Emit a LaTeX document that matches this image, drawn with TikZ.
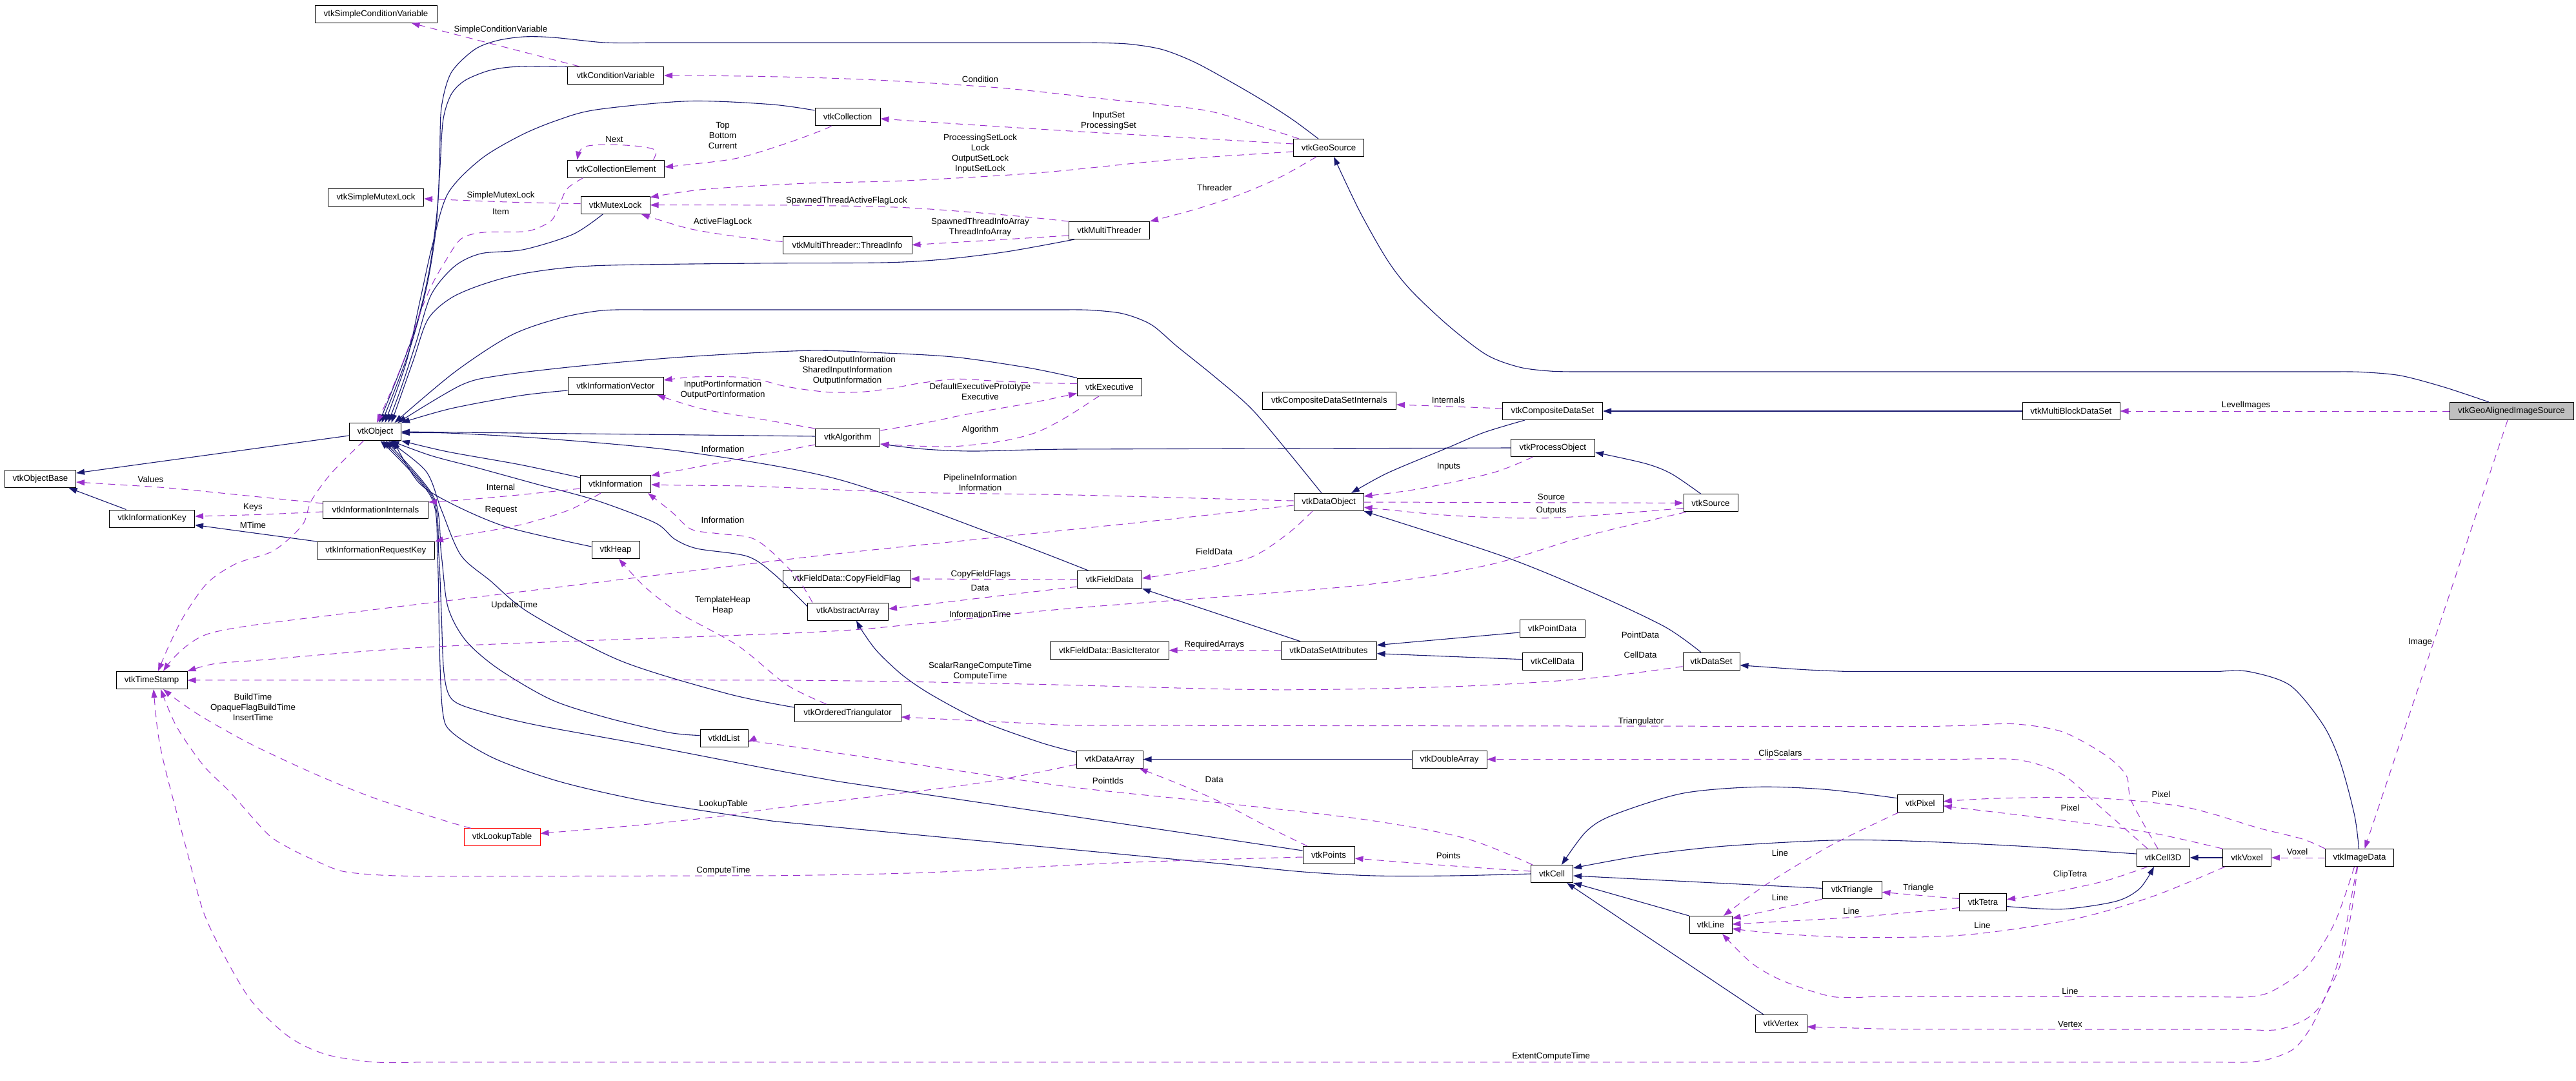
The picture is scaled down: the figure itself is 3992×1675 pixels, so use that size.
\documentclass[tikz,border=0pt]{standalone}
\usepackage{fontspec}
\newfontfamily\lbl{Liberation Sans}
\usetikzlibrary{arrows.meta}
\definecolor{navyc}{HTML}{191970}
\definecolor{orchidc}{HTML}{9A32CD}
\definecolor{greyc}{HTML}{BFBFBF}
\newcommand\lblf{\lbl\fontsize{13.3pt}{16pt}\selectfont}
\begin{document}
\begin{tikzpicture}[x=1pt,y=-1pt,
 cls/.style={draw=black, line width=1pt, fill=white, minimum height=27pt, inner sep=0pt, font=\lblf},
 lab/.style={inner sep=0pt, align=center, font=\lblf},
 inh/.style={draw=navyc, line width=1.1pt, -{Triangle[length=13pt,width=9pt]}},
 use/.style={draw=orchidc, line width=1pt, dash pattern=on 11pt off 8pt, -{Triangle[length=13pt,width=9pt]}}]
\useasboundingbox (0,0) rectangle (3992,1675);
\fill[white] (0,0) rectangle (3992,1675);
% ---------------- nodes
\node[cls, minimum width=110pt] (objbase) at (62.5,742) {vtkObjectBase};
\node[cls, minimum width=132pt] (infokey) at (235.5,803.5) {vtkInformationKey};
\node[cls, minimum width=110pt] (tstamp) at (235,1054) {vtkTimeStamp};
\node[cls, minimum width=189pt] (scv) at (582.5,21.7) {vtkSimpleConditionVariable};
\node[cls, minimum width=148pt] (sml) at (582.5,306) {vtkSimpleMutexLock};
\node[cls, minimum width=80pt] (obj) at (581.5,669) {vtkObject};
\node[cls, minimum width=163pt] (infoint) at (582,790) {vtkInformationInternals};
\node[cls, minimum width=182pt] (inforeq) at (582.4,853) {vtkInformationRequestKey};
\node[cls, minimum width=118pt, draw=red] (lut) at (778,1297.4) {vtkLookupTable};
\node[cls, minimum width=149pt] (condvar) at (954,117) {vtkConditionVariable};
\node[cls, minimum width=150pt] (collel) at (954.5,261.7) {vtkCollectionElement};
\node[cls, minimum width=107pt] (mutex) at (953.5,317.7) {vtkMutexLock};
\node[cls, minimum width=148pt] (infovec) at (954,598) {vtkInformationVector};
\node[cls, minimum width=109pt] (info) at (954,750) {vtkInformation};
\node[cls, minimum width=74pt] (heap) at (954,852) {vtkHeap};
\node[cls, minimum width=74pt] (idlist) at (1122,1143.5) {vtkIdList};
\node[cls, minimum width=101pt] (coll) at (1313.5,181) {vtkCollection};
\node[cls, minimum width=200pt] (thrinfo) at (1313,379.5) {vtkMultiThreader::ThreadInfo};
\node[cls, minimum width=100pt] (algo) at (1313.8,678) {vtkAlgorithm};
\node[cls, minimum width=198pt] (cff) at (1312,897) {vtkFieldData::CopyFieldFlag};
\node[cls, minimum width=125pt] (absarr) at (1314,947.5) {vtkAbstractArray};
\node[cls, minimum width=165pt] (otri) at (1313.6,1105) {vtkOrderedTriangulator};
\node[cls, minimum width=125pt] (mthr) at (1719,357) {vtkMultiThreader};
\node[cls, minimum width=100pt] (exec) at (1719.5,599.5) {vtkExecutive};
\node[cls, minimum width=100pt] (fdata) at (1719.5,898) {vtkFieldData};
\node[cls, minimum width=184pt] (basicit) at (1719,1007.7) {vtkFieldData::BasicIterator};
\node[cls, minimum width=103pt] (darr) at (1719.5,1176.6) {vtkDataArray};
\node[cls, minimum width=109pt] (geosrc) at (2059,229) {vtkGeoSource};
\node[cls, minimum width=207pt] (cdsint) at (2060,621) {vtkCompositeDataSetInternals};
\node[cls, minimum width=108pt] (dobj) at (2059,778) {vtkDataObject};
\node[cls, minimum width=148pt] (dsattr) at (2059,1007.7) {vtkDataSetAttributes};
\node[cls, minimum width=80pt] (points) at (2059,1325) {vtkPoints};
\node[cls, minimum width=116pt] (dblarr) at (2246,1176.6) {vtkDoubleArray};
\node[cls, minimum width=155pt] (cds) at (2406,637) {vtkCompositeDataSet};
\node[cls, minimum width=130pt] (procobj) at (2406.4,694) {vtkProcessObject};
\node[cls, minimum width=101pt] (pdata) at (2405.6,974) {vtkPointData};
\node[cls, minimum width=93pt] (cdata) at (2406,1024.7) {vtkCellData};
\node[cls, minimum width=65pt] (cell) at (2405,1354) {vtkCell};
\node[cls, minimum width=84pt] (source) at (2651,779.4) {vtkSource};
\node[cls, minimum width=88pt] (dset) at (2652,1024.7) {vtkDataSet};
\node[cls, minimum width=66pt] (line) at (2651,1433) {vtkLine};
\node[cls, minimum width=80pt] (vertex) at (2760,1586) {vtkVertex};
\node[cls, minimum width=92pt] (tri) at (2870,1379.4) {vtkTriangle};
\node[cls, minimum width=71pt] (pixel) at (2975.7,1244.7) {vtkPixel};
\node[cls, minimum width=73pt] (tetra) at (3073,1397.5) {vtkTetra};
\node[cls, minimum width=151pt] (mblock) at (3209.5,637) {vtkMultiBlockDataSet};
\node[cls, minimum width=82pt] (cell3d) at (3352,1329) {vtkCell3D};
\node[cls, minimum width=75pt] (voxel) at (3482,1329) {vtkVoxel};
\node[cls, minimum width=106pt] (imgdata) at (3656.5,1329) {vtkImageData};
\node[cls, minimum width=192pt, fill=greyc] (geoimg) at (3892,637) {vtkGeoAlignedImageSource};
% ---------------- inheritance
\draw[inh] ([yshift=-6pt]obj.west) -- ([yshift=9pt]objbase.east);
\draw[inh] ([xshift=-40pt]infokey.north) -- ([xshift=44pt]objbase.south);
\draw[inh] (inforeq.north west) -- ([yshift=-10pt]infokey.east);
\draw[inh] plot[smooth] coordinates {([xshift=-35pt]geoimg.north) (3788,600) (3720,582) (3660,576.5) (3620,576)} -- plot[smooth] coordinates {(2440,576) (2402,575) (2355,569) (2304,550) (2245,505) (2186.7,450) (2150,403) (2106.7,326.7) ([xshift=8pt]geosrc.south)};
\draw[inh] plot[smooth] coordinates {([xshift=-43pt]cds.south) (2300,670) (2243,694) (2150,733) ([xshift=35pt]dobj.north)};
\draw[inh] (mblock.west) -- (cds.east);
\draw[inh] (procobj.west) -- plot[smooth] coordinates {(1650,696) (1594,697) (1514,699) (1468,698) (1422,695) ([yshift=-10pt]algo.east)};
\draw[inh] plot[smooth] coordinates {([xshift=-15pt]source.north) (2590,734) (2549,718) ([yshift=-7pt]procobj.east)};
\draw[inh] plot[smooth] coordinates {([xshift=-16pt]dset.north) (2579.6,971) (2467,918) (2329.6,862) (dobj.south east)};
\draw[inh] plot[smooth] coordinates {([xshift=-1pt]imgdata.north) (3648.6,1262.6) (3626.6,1181) (3600,1123) (3549,1062) (3484.5,1040.5) (3440,1040.4)} -- plot[smooth] coordinates {(2860,1040.4) (2794,1037.5) ([yshift=-6pt]dset.east)};
\draw[inh] ([xshift=-44pt]dsattr.north) -- (fdata.south east);
\draw[inh] ([yshift=-6pt]pdata.west) -- ([yshift=8pt]dsattr.east);
\draw[inh] ([yshift=3pt]cdata.west) -- ([yshift=-5pt]dsattr.east);
\draw[inh] plot[smooth] coordinates {([yshift=11pt]darr.west) (1613,1150.7) (1521,1117.4) (1445,1077.5) (1399,1046.5) (1360,1010) (1337.7,980) ([xshift=13pt]absarr.south)};
\draw[inh] (dblarr.west) -- (darr.east);
\draw[inh] plot[smooth] coordinates {([yshift=8pt]pixel.west) (2830.7,1223.4) (2723,1219.4) (2606.8,1229.4) (2499,1263.2) (2457.5,1289) ([xshift=15pt]cell.north)};
\draw[inh] plot[smooth] coordinates {([yshift=6pt]cell3d.west) (3129,1311) (2955,1303) (2839,1302) (2673,1311) (2548.8,1325) ([yshift=9pt]cell.east)};
\draw[inh] (voxel.west) -- (cell3d.east);
\draw[inh] ([yshift=3pt]tri.west) -- ([yshift=-3pt]cell.east);
\draw[inh] plot[smooth] coordinates {([yshift=-7pt]tetra.east) (3195.5,1408.7) (3278.5,1396.7) (3315.8,1376.8) ([xshift=-14pt]cell3d.south)};
\draw[inh] (line.north west) -- (cell.south east);
\draw[inh] ([xshift=-27pt]vertex.north) -- ([xshift=23pt]cell.south);
% into vtkObject
\draw[inh] plot[smooth] coordinates {([xshift=-16pt]geosrc.north) (2005,186.7) (1964,160) (1913,130) (1852,96.7) (1801,76.7) (1750,68.3) (1700,66.3) (1660,66.3)} -- plot[smooth] coordinates {(1000,66.3) (936.6,66) (857,58) (811.6,57) (770,63) (735,77) (699,113) (684,167) (681.5,240) (678,320) (665,420) (640,520) ([xshift=6pt]obj.north)};
\draw[inh] plot[smooth] coordinates {(condvar.north west) (837,102.7) (790,104) (755.5,110) (720,125) (699,146.7) (686.6,186.7) (681.5,266.7) (675,360) (660,450) (632,550) ([xshift=10pt]obj.north)};
\draw[inh] plot[smooth] coordinates {([yshift=10pt]coll.west) (1194,161.7) (1066.7,156.7) (924,170) (862.6,186.7) (806.5,210) (745,246.7) (694,300) (670,380) (650,470) (630,560) ([xshift=15pt]obj.north)};
\draw[inh] plot[smooth] coordinates {([xshift=-19pt]mutex.south) (888,363) (811.6,386.7) (745,393) (704,413) (668,457) (645,530) (622,600) ([xshift=20pt]obj.north)};
\draw[inh] plot[smooth] coordinates {([xshift=-54pt]mthr.south) (1560,390) (1460,402) (1367,407) (1173,408) (923.5,411.7) (816,423) (750,440) (699,461.7) (663,495) (640,560) ([xshift=25pt]obj.north)};
\draw[inh] plot[smooth] coordinates {([xshift=-11pt]dobj.north) (1996,700) (1939,633) (1881.5,583) (1824,536.7) (1784,503) (1740,486) (1690,480.5) (1650,480)} -- plot[smooth] coordinates {(1000,480) (933.7,481) (867,493) (791,520) (704,577) ([xshift=30pt]obj.north)};
\draw[inh] plot[smooth] coordinates {(exec.north west) (1594.4,570) (1479.6,553.3) (1365,546.7) (1250,543.3) (1061,553) (900,567) (775.5,581.7) (714,597) ([xshift=35pt]obj.north)};
\draw[inh] plot[smooth] coordinates {([yshift=-7pt]infovec.west) (806,613) (699,633) (obj.north east)};
\draw[inh] ([yshift=2pt]algo.west) -- (obj.east);
\draw[inh] plot[smooth] coordinates {([xshift=-33pt]fdata.north) (1554,833) (1300,743) (1061,700) (850,680) (694,671) ([yshift=-2pt]obj.east)};
\draw[inh] plot[smooth] coordinates {([yshift=10pt]info.west) (806,720) (694,700) (obj.south east)};
\draw[inh] plot[smooth] coordinates {([yshift=5pt]heap.west) (785.7,816.7) (699,780) (648,746.7) ([xshift=28pt]obj.south)};
\draw[inh] plot[smooth] coordinates {([yshift=8pt]absarr.west) (1200,890) (1158,862) (1080,850) (1045,835) (1015,810) (923,775) (831,750) (740,725) (668,706) ([xshift=24pt]obj.south)};
\draw[inh] plot[smooth] coordinates {([yshift=9pt]otri.west) (1128,1075) (962,1024) (821,950) (760,900) (714,860) (684,790) (660,730) ([xshift=20pt]obj.south)};
\draw[inh] plot[smooth] coordinates {([yshift=4pt]idlist.west) (1036.5,1135) (940,1112) (854,1084) (771,1035.5) (721,991.6) (694,940) (684,860) (672,770) ([xshift=16pt]obj.south)};
\draw[inh] ([yshift=7pt]points.west) -- plot[smooth] coordinates {(1300,1211) (1200,1193) (995,1153.4) (829,1123) (746,1102.6) (700.7,1084) (688,1042.5) (684,950) (680,860) (670,770) ([xshift=12pt]obj.south)};
\draw[inh] plot[smooth] coordinates {(cell.west) (2250,1357) (2130,1357) (2020,1351) (1900,1339)} -- plot[smooth] coordinates {(1200,1272.6) (1011.6,1243.6) (870.6,1212) (767,1175.6) (700.7,1135) (686,1102.6) (681,1000) (678,860) (668,770) ([xshift=8pt]obj.south)};
% ---------------- usage (dashed)
\draw[use] ([xshift=-56pt]condvar.north) -- ([xshift=55pt]scv.south);
\draw[use] plot[smooth] coordinates {([xshift=-46pt]geosrc.north) (1935,190) (1862,170) (1709,153) (1556,136.7) (1377.6,125) (1250,120) (1120,117.5) (condvar.east)};
\draw[use] plot[smooth] coordinates {([yshift=6pt]geosrc.west) (1811,211.7) (1658,203) (1479.6,191.7) ([yshift=-3pt]coll.east)};
\draw[use] plot[smooth] coordinates {([xshift=-25pt]coll.south) (1276,201) (1220,221.7) (1143,245) (1067,255) ([yshift=3pt]collel.east)};
\draw[use] plot[smooth] coordinates {([xshift=58pt]collel.north) (1016,233) (990,226.7) (939,224) (903.5,228.3) ([xshift=-60pt]collel.north)};
\draw[use] plot[smooth] coordinates {([xshift=-51pt]collel.south) (878,293.3) (865,323.3) (852.5,343.3) (816.7,358.3) (750,360) (714.7,370) (690,405) (670,440) (653,480) (625,560) (600,620) ([xshift=2.5pt]obj.north)};
\draw[use] plot[smooth] coordinates {([yshift=2pt]mutex.west) (786,313) ([yshift=-2pt]sml.east)};
\draw[use] plot[smooth] coordinates {([yshift=-6pt]geosrc.west) (1811,248) (1607,268) (1403,280) (1250,284) (1092,293.3) ([yshift=12pt]mutex.east)};
\draw[use] plot[smooth] coordinates {(mthr.north west) (1556,333) (1403,321.7) (1250,318.3) (1120,317.7) (mutex.east)};
\draw[use] plot[smooth] coordinates {([yshift=5pt]thrinfo.west) (1143,366.7) (1067,354) ([xshift=40pt]mutex.south)};
\draw[use] plot[smooth] coordinates {([yshift=-8pt]mthr.west) (1540,372) (thrinfo.east)};
\draw[use] plot[smooth] coordinates {([xshift=-19pt]geosrc.south) (1983,275) (1916.7,303.3) (1850,325) (mthr.north east)};
\draw[use] plot[smooth] coordinates {([yshift=5pt]exec.west) (1600,593) (1537,590) (1479.6,587.3) (1422,594.3) (1382,601.7) (1336,607.3) (1290,608) (1250,604) (1214,598) (1178.6,589) (1137.8,584) (1076.5,584) ([yshift=9pt]infovec.east)};
\draw[use] plot[smooth] coordinates {(algo.north west) (1163,646.7) (1087,633.3) ([xshift=64pt]infovec.south)};
\draw[use] plot[smooth] coordinates {([yshift=11pt]algo.east) (1430,656) (1508,640) (1594.4,625) ([yshift=-10pt]exec.west)};
\draw[use] plot[smooth] coordinates {([xshift=-16pt]exec.south) (1652,646.7) (1606,670) (1554,683.3) (1479.6,691.7) (1410.7,690.7) ([yshift=-10pt]algo.east)};
\draw[use] ([yshift=-11pt]algo.west) -- ([yshift=13pt]info.east);
\draw[use] plot[smooth] coordinates {([yshift=2pt]dobj.west) (1881.5,772.7) (1651.8,766.7) (1422,763.3) (1300,759) (1163,753.3) (1061,752) ([yshift=-1pt]info.east)};
\draw[use] plot[smooth] coordinates {([yshift=-7pt]info.west) (806,766.7) (714,775) ([yshift=12pt]infoint.east)};
\draw[use] plot[smooth] coordinates {([xshift=-23pt]info.south) (882.6,790) (806,813.3) (714,830) (inforeq.north east)};
\draw[use] plot[smooth] coordinates {([yshift=10pt]infoint.west) (401.8,770) (268,756.7) (178.6,750.7) ([yshift=-5pt]objbase.east)};
\draw[use] plot[smooth] coordinates {([yshift=-3pt]infoint.west) (401.8,797.3) ([yshift=3.5pt]infokey.east)};
\draw[use] plot[smooth] coordinates {([xshift=-18pt]obj.south) (513.4,733.3) (482,776.7) (468.7,813.3) (424,853.3) (366,873.3) (321.4,903.3) (285.7,953.3) (262,1000) ([xshift=10pt]tstamp.north)};
\draw[use] plot[smooth] coordinates {([xshift=-55pt]absarr.north) (1235,895) (1194,853.3) (1163,833) (1112,826.7) (1071,820) (1041,793.3) ([xshift=50pt]info.south)};
\draw[use] (dobj.east) -- (source.west);
\draw[use] plot[smooth] coordinates {([yshift=-8pt]source.west) (2406,802.5) (2253,799) ([yshift=-8pt]dobj.east)};
\draw[use] plot[smooth] coordinates {([xshift=-31pt]procobj.south) (2314,732.4) (2202,757) ([yshift=9pt]dobj.east)};
\draw[use] plot[smooth] coordinates {([yshift=4pt]cds.west) (2268,630.7) ([yshift=-6pt]cdsint.east)};
\draw[use] plot[smooth] coordinates {([xshift=-25pt]dobj.south) (1996,826.7) (1939,863.3) (1852.8,883.3) ([yshift=2pt]fdata.east)};
\draw[use] (fdata.west) -- (cff.east);
\draw[use] ([yshift=-11pt]fdata.west) -- ([yshift=4pt]absarr.east);
\draw[use] plot[smooth] coordinates {([yshift=-5pt]dobj.west) (1824,803.3) (1537,833.3) (1250,863.3) (700,930) (539,950) (323,982) ([xshift=18pt]tstamp.north)};
\draw[use] plot[smooth] coordinates {([xshift=-38pt]source.south) (2457,830.6) (2304,876) (2100,907.8) (1652,943.3) (1422,966.7) (1250,980) (680,1001.8) (400,1023) (331.7,1028.6) (tstamp.north east)};
\draw[use] plot[smooth] coordinates {([yshift=-8pt]dset.west) (2457,1051.6) (2253,1063.8) (1965,1068.7) (1582.5,1059.8) (1200,1054) (tstamp.east)};
\draw[use] plot[smooth] coordinates {([xshift=-48pt]lut.north) (688,1271.3) (580,1236.6) (489,1199.7) (389.7,1153.4) (315,1111.8) (273.6,1084) ([xshift=18pt]tstamp.south)};
\draw[use] plot[smooth] coordinates {([yshift=-3pt]points.west) (1735.6,1336.8) (1429.5,1352.3) (1200,1356.8)} -- plot[smooth] coordinates {(660,1358) (590,1356) (530.7,1350) (489,1333.7) (450,1315) (414.6,1292) (356.5,1227.4) (315,1185.8) (273.6,1125.7) ([xshift=14pt]tstamp.south)};
\draw[use] plot[smooth] coordinates {([xshift=-3pt]imgdata.south) (3644,1413) (3626.6,1495) (3604.5,1542.4) (3582.4,1589.8) (3556,1624.2) (3520.6,1640) (3485,1645.7) (3440,1645.8)} -- plot[smooth] coordinates {(650,1645.8) (580.4,1645.8) (505.8,1634) (447.8,1606.5) (389.7,1551) (348,1481.7) (315,1412.3) (290,1319.8) (257,1195) (244.6,1135) ([xshift=3pt]tstamp.south)};
\draw[use] (dsattr.west) -- (basicit.east);
\draw[use] plot[smooth] coordinates {([xshift=-33pt]otri.north) (1219,1061) (1144,1000.8) (1053,950) (1000,910) ([xshift=5pt]heap.south)};
\draw[use] plot[smooth] coordinates {([xshift=-8pt]cell3d.north) (3303,1241.3) (3295,1201.5) (3262,1169.6) (3195.5,1133.7) (3121,1121.7) (3050,1124) (2988,1125.7)} -- (1659,1124) -- ([yshift=-6pt]otri.east);
\draw[use] plot[smooth] coordinates {([xshift=-24pt]cell3d.north) (3253.5,1249.3) (3195.5,1199.5) (3129,1177.5) (3046,1176.3)} -- (dblarr.east);
\draw[use] plot[smooth] coordinates {([xshift=-30pt]cell.north) (2271,1299) (2118,1270.3) (1888.6,1243.7) (1659,1219.4) (1429.5,1186) (1200,1152.9) ([yshift=-6pt]idlist.east)};
\draw[use] plot[smooth] coordinates {([xshift=-33pt]points.north) (1965,1281.4) (1888.6,1241.5) (1827.4,1215) ([xshift=46pt]darr.south)};
\draw[use] plot[smooth] coordinates {([yshift=-8pt]darr.west) (1506,1215) (1200,1252.6) (1119,1264.4) (995,1278) ([yshift=6pt]lut.east)};
\draw[use] plot[smooth] coordinates {([yshift=4pt]cell.west) (2240.6,1341) ([yshift=-5pt]points.east)};
\draw[use] plot[smooth] coordinates {(imgdata.north west) (3568,1300) (3500,1283) (3432,1262) (3378,1249) (3300,1240) (3212,1235.3) (3087.7,1237.3) ([yshift=3pt]pixel.east)};
\draw[use] plot[smooth] coordinates {(voxel.north west) (3336.5,1291) (3212,1273) (3046,1253) ([yshift=-4pt]pixel.east)};
\draw[use] plot[smooth] coordinates {([xshift=-33pt]pixel.south) (2839,1309) (2739.5,1368.9) ([xshift=20pt]line.north)};
\draw[use] (imgdata.west) -- (voxel.east);
\draw[use] plot[smooth] coordinates {([xshift=-24pt]cell3d.south) (3262,1365) (3170.6,1384.8) ([yshift=4pt]tetra.east)};
\draw[use] ([yshift=5pt]tetra.west) -- ([yshift=-3pt]tri.east);
\draw[use] (tri.south west) -- ([yshift=10pt]line.east);
\draw[use] plot[smooth] coordinates {([yshift=-9pt]tetra.west) (2880.5,1420.7) ([yshift=1pt]line.east)};
\draw[use] plot[smooth] coordinates {([xshift=-34pt]voxel.south) (3336.5,1388.8) (3212,1424.6) (3046,1448.6) (2880.5,1452.6) (2756,1446.6) ([yshift=-6pt]line.east)};
\draw[use] plot[smooth] coordinates {([xshift=-8pt]imgdata.south) (3617.7,1430.5) (3573.6,1499.4) (3520.6,1536) (3485.3,1544.6) (3440,1544.5)} -- plot[smooth] coordinates {(2900,1544.4) (2839,1544.2) (2764,1520.3) (2714.6,1492.4) ([xshift=18pt]line.south)};
\draw[use] plot[smooth] coordinates {([xshift=-4pt]imgdata.south) (3626.6,1477.8) (3600,1551) (3573.6,1579) (3529.5,1595.4) (3480,1595.2)} -- (2938.5,1594.8) -- ([yshift=-5pt]vertex.east);
\draw[use] (geoimg.west) -- (mblock.east);
\draw[use] ([xshift=-6pt]geoimg.south) -- ([xshift=8pt]imgdata.north);
% ---------------- labels
\node[lab] (t1) at (776,46) {SimpleConditionVariable};
\node[lab] (t2) at (1519,123) {Condition};
\node[lab] (t3) at (1718,187) {InputSet\\ProcessingSet};
\node[lab] (t4) at (1120,210) {Top\\Bottom\\Current};
\node[lab] (t5) at (952,216) {Next};
\node[lab] (t6) at (1519,238) {ProcessingSetLock\\Lock\\OutputSetLock\\InputSetLock};
\node[lab] (t7) at (776,303) {SimpleMutexLock};
\node[lab] (t8) at (776,328) {Item};
\node[lab] (t9) at (1312,311) {SpawnedThreadActiveFlagLock};
\node[lab] (t10) at (1120,344) {ActiveFlagLock};
\node[lab] (t11) at (1519,352) {SpawnedThreadInfoArray\\ThreadInfoArray};
\node[lab] (t12) at (1882,291) {Threader};
\node[lab] (t13) at (1313,573.7) {SharedOutputInformation\\SharedInputInformation\\OutputInformation};
\node[lab] (t14) at (1120,603.7) {InputPortInformation\\OutputPortInformation};
\node[lab] (t15) at (1519,606.7) {DefaultExecutivePrototype\\Executive};
\node[lab] (t16) at (1519,665.7) {Algorithm};
\node[lab] (t17) at (1120,695.7) {Information};
\node[lab] (t18) at (1519,747.7) {PipelineInformation\\Information};
\node[lab] (t19) at (776,754.7) {Internal};
\node[lab] (t20) at (776.5,790.7) {Request};
\node[lab] (t21) at (1120,805.7) {Information};
\node[lab] (t22) at (233.5,742.7) {Values};
\node[lab] (t23) at (392,786.7) {Keys};
\node[lab] (t24) at (392,813.3) {MTime};
\node[lab] (t25) at (2244.4,619.4) {Internals};
\node[lab] (t26) at (2245,723.6) {Inputs};
\node[lab] (t27) at (2404,770.3) {Source};
\node[lab] (t28) at (2404,791.3) {Outputs};
\node[lab] (t29) at (3480.6,628) {LevelImages};
\node[lab] (t30) at (1881.5,854.7) {FieldData};
\node[lab] (t31) at (1519.8,889.7) {CopyFieldFlags};
\node[lab] (t32) at (1518.7,910.7) {Data};
\node[lab] (t33) at (797,938) {UpdateTime};
\node[lab] (t34) at (1518.7,951.7) {InformationTime};
\node[lab] (t35) at (1120,938) {TemplateHeap\\Heap};
\node[lab] (t36) at (1881.7,998.6) {RequiredArrays};
\node[lab] (t37) at (2542,983.5) {PointData};
\node[lab] (t38) at (2542,1015) {CellData};
\node[lab] (t39) at (1519,1039.9) {ScalarRangeComputeTime\\ComputeTime};
\node[lab] (t40) at (392,1095.6) {BuildTime\\OpaqueFlagBuildTime\\InsertTime};
\node[lab] (t41) at (2543,1117.8) {Triangulator};
\node[lab] (t42) at (2759,1167.6) {ClipScalars};
\node[lab] (t43) at (1717,1209.6) {PointIds};
\node[lab] (t44) at (1881.7,1207.8) {Data};
\node[lab] (t45) at (1121,1245.9) {LookupTable};
\node[lab] (t46) at (2244.4,1325.7) {Points};
\node[lab] (t47) at (1121,1349.4) {ComputeTime};
\node[lab] (t48) at (3349,1230.5) {Pixel};
\node[lab] (t49) at (3208,1252) {Pixel};
\node[lab] (t50) at (2758.5,1321.8) {Line};
\node[lab] (t51) at (3560,1319.8) {Voxel};
\node[lab] (t52) at (3208,1355) {ClipTetra};
\node[lab] (t53) at (2973,1376) {Triangle};
\node[lab] (t54) at (2758.5,1390.8) {Line};
\node[lab] (t55) at (2869,1411.5) {Line};
\node[lab] (t56) at (3072,1434) {Line};
\node[lab] (t57) at (3208,1535.4) {Line};
\node[lab] (t58) at (3208,1587) {Vertex};
\node[lab] (t59) at (2403.6,1637.5) {ExtentComputeTime};
\node[lab] (t60) at (3750.6,995.7) {Image};
\end{tikzpicture}
\end{document}
